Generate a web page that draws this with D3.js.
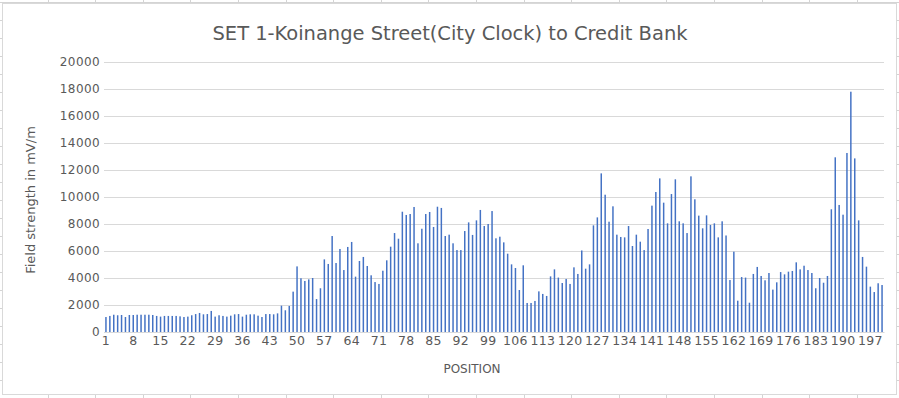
<!DOCTYPE html>
<html>
<head>
<meta charset="utf-8">
<script src="https://cdn.jsdelivr.net/npm/d3@7"></script>
<style>
  html, body { margin: 0; padding: 0; background: #fff; }
  svg { display: block; }
</style>
</head>
<body>
<svg id="chart" width="899" height="398"></svg>
<script>
const title = "SET 1-Koinange Street(City Clock) to Credit Bank";
const yTitle = "Field strength in mV/m";
const xTitle = "POSITION";

const positions = d3.range(1, 201);
const values = [
  1110, 1190, 1280, 1240, 1260, 1110, 1260, 1260, 1280, 1280,
  1280, 1280, 1260, 1190, 1140, 1190, 1190, 1190, 1190, 1160,
  1110, 1140, 1240, 1330, 1410, 1310, 1330, 1560, 1140, 1240,
  1190, 1140, 1210, 1310, 1330, 1140, 1280, 1310, 1310, 1210,
  1110, 1330, 1330, 1310, 1380, 1950, 1610, 1930, 2990, 4860,
  3980, 3780, 3900, 4000, 2440, 3240, 5380, 5040, 7110, 5110,
  6150, 4590, 6300, 6670, 4100, 5260, 5560, 4890, 4200, 3700,
  3560, 4540, 5310, 6320, 7330, 6910, 8910, 8670, 8740, 9260,
  6570, 7650, 8740, 8890, 7780, 9280, 9190, 7110, 7210, 6570,
  6070, 6070, 7480, 8120, 7190, 8270, 9040, 7850, 8000, 8960,
  6940, 7060, 6640, 5800, 5010, 4740, 3110, 4940, 2150, 2150,
  2300, 3010, 2820, 2670, 4120, 4640, 4030, 3630, 3930, 3560,
  4790, 4300, 6040, 4690, 5010, 7900, 8490, 11750, 10170, 8170,
  9310, 7210, 7040, 7010, 7850, 6370, 7210, 6690, 6070, 7630,
  9360, 10370, 11380, 9580, 8050, 10220, 11310, 8200, 8050, 7330,
  11530, 9830, 8620, 7680, 8640, 7930, 8050, 7010, 8200, 7150,
  3850, 5950, 2320, 4070, 4030, 2170, 4300, 4820, 4150, 3830,
  4370, 3140, 3680, 4440, 4270, 4470, 4520, 5160, 4640, 4910,
  4590, 4370, 3240, 4000, 3650, 4150, 9090, 12940, 9410, 8690,
  13260, 17800, 12860, 8270, 5560, 4840, 3360, 2960, 3610, 3480
];
const yTicks = d3.range(0, 20001, 2000);
const xTickLabels = positions.filter(p => (p - 1) % 7 === 0);

const W = 899, H = 398;
const svg = d3.select("#chart");

// spreadsheet background
const bg = svg.append("g");
for (let x = 47.6; x < W; x += 47.6) {
  bg.append("line").attr("x1", Math.round(x) + 0.5).attr("x2", Math.round(x) + 0.5)
    .attr("y1", 0).attr("y2", H).attr("stroke", "#d4d4d4");
}
for (let y = 2; y < H; y += 18) {
  bg.append("line").attr("x1", 0).attr("x2", W).attr("y1", y + 0.5).attr("y2", y + 0.5)
    .attr("stroke", "#d4d4d4");
}
// chart area
svg.append("rect").attr("x", 2.5).attr("y", 3.5).attr("width", 894).attr("height", 391)
  .attr("fill", "#fff").attr("stroke", "#d9d9d9");

const plot = { left: 104, right: 884, top: 62, bottom: 332 };

const x = d3.scaleBand().domain(positions).range([plot.left, plot.right])
  .paddingInner(0.62).paddingOuter(0.31);
const y = d3.scaleLinear().domain([0, 20000]).range([plot.bottom, plot.top]);

// gridlines
svg.append("g").selectAll("line").data(yTicks).join("line")
  .attr("x1", plot.left).attr("x2", plot.right)
  .attr("y1", d => Math.round(y(d)) + 0.5).attr("y2", d => Math.round(y(d)) + 0.5)
  .attr("stroke", "#d9d9d9").attr("stroke-width", 1);

// bars
svg.append("g").selectAll("rect").data(positions).join("rect")
  .attr("x", d => x(d)).attr("width", x.bandwidth())
  .attr("y", (d, i) => y(values[i]))
  .attr("height", (d, i) => y(0) - y(values[i]))
  .attr("fill", "#4472C4");

// y axis
const yAxis = svg.append("g").attr("transform", `translate(${plot.left - 4},0)`)
  .call(d3.axisLeft(y).tickValues(yTicks).tickSize(0).tickPadding(0).tickFormat(d3.format("d")));
yAxis.select(".domain").remove();
yAxis.selectAll("text").attr("fill", "#595959")
  .style("font-family", "'DejaVu Sans', sans-serif").style("font-size", "12px")
  .style("letter-spacing", "0.4px");

// x axis
const xAxis = svg.append("g").attr("transform", `translate(0,${plot.bottom})`)
  .call(d3.axisBottom(x).tickValues(xTickLabels).tickSize(0).tickPadding(4));
xAxis.select(".domain").attr("stroke", "#d9d9d9");
xAxis.selectAll("text").attr("fill", "#595959")
  .style("font-family", "'DejaVu Sans', sans-serif").style("font-size", "12.5px")
  .style("letter-spacing", "0.3px");

// title
const t = svg.append("text").attr("x", 450).attr("y", 40).attr("text-anchor", "middle")
  .attr("fill", "#595959")
  .style("font-family", "'DejaVu Sans Condensed', 'DejaVu Sans', sans-serif")
  .style("font-stretch", "condensed")
  .style("font-size", "19px").text(title);
const tw = t.node().getComputedTextLength();
if (Math.abs(tw - 475) > 4) {
  t.attr("textLength", 475).attr("lengthAdjust", "spacingAndGlyphs");
}

// axis titles
svg.append("text").attr("transform", "translate(35,200) rotate(-90)")
  .attr("text-anchor", "middle").attr("fill", "#595959")
  .style("font-family", "'DejaVu Sans', sans-serif").style("font-size", "13px")
  .text(yTitle);
svg.append("text").attr("x", 472).attr("y", 373).attr("text-anchor", "middle")
  .attr("fill", "#595959")
  .style("font-family", "'DejaVu Sans', sans-serif").style("font-size", "12px")
  .text(xTitle);
</script>
</body>
</html>
